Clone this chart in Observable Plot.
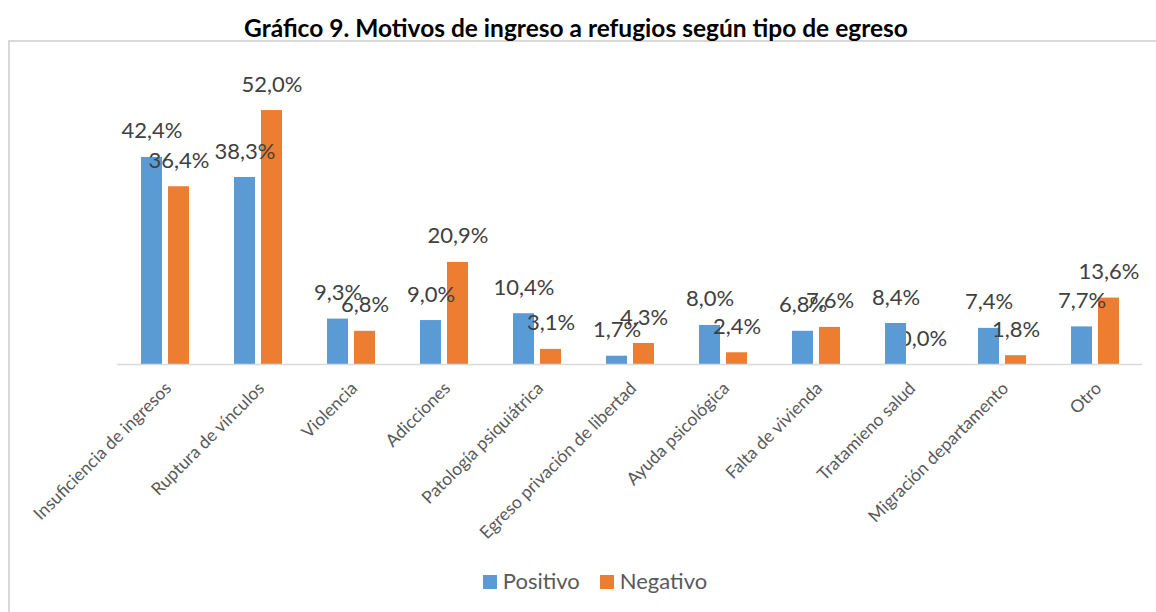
<!DOCTYPE html>
<html><head><meta charset="utf-8">
<script src="https://cdn.jsdelivr.net/npm/d3@7"></script>
<script src="https://cdn.jsdelivr.net/npm/@observablehq/plot@0.6"></script>
<style>
body{margin:0;background:#fff;font-family:Lato,sans-serif;}
#wrap{position:relative;width:1156px;height:612px;overflow:hidden;}
#box{position:absolute;left:8px;top:40px;width:1200px;height:700px;border:2px solid #d9d9d9;box-sizing:border-box;}
#title{position:absolute;left:0;width:1152px;top:13px;text-align:center;font-weight:bold;font-size:24.5px;color:#000;line-height:30px;}
#chart{position:absolute;left:0;top:41px;}
#legend{position:absolute;left:17px;width:1156px;top:567px;text-align:center;font-size:22px;color:#595959;line-height:28px;}
#legend span.sw{display:inline-block;width:14px;height:14px;margin-right:6px;vertical-align:0px;}
#legend span.it{margin:0 10px;}
</style></head>
<body>
<div id="wrap">
<div id="box"></div>
<div id="title">Gráfico 9. Motivos de ingreso a refugios según tipo de egreso</div>
<div id="chart"></div>
<div id="legend"></div>
</div>
<script>
const categories = ["Insuficiencia de ingresos","Ruptura de vínculos","Violencia","Adicciones","Patología psiquiátrica","Egreso privación de libertad","Ayuda psicológica","Falta de vivienda","Tratamieno salud","Migración departamento","Otro"];
const series = ["Positivo","Negativo"];
const positivo = [42.4,38.3,9.3,9.0,10.4,1.7,8.0,6.8,8.4,7.4,7.7];
const negativo = [36.4,52.0,6.8,20.9,3.1,4.3,2.4,7.6,0.0,1.8,13.6];
const colors = ["#5b9bd5","#ed7d31"];

const pos = categories.map((c,i)=>({cat:c, serie:"Positivo", value:positivo[i]}));
const neg = categories.map((c,i)=>({cat:c, serie:"Negativo", value:negativo[i]}));
const fmt = d => d.value.toFixed(1).replace(".", ",") + "%";

const lblStyle = {fontSize:22, fill:"#404040", dy:-26, lineAnchor:"middle"};

const chart = Plot.plot({
  width:1156, height:520,
  marginTop:30, marginBottom:197, marginLeft:117, marginRight:14,
  style:{fontFamily:"Lato", background:"transparent"},
  x:{domain:categories, paddingInner:0.485, paddingOuter:0.2425, axis:null},
  y:{domain:[0,60], axis:null},
  color:{domain:series, range:colors},
  marks:[
    Plot.text(neg.filter(d=>d.value===0), {x:"cat", y:"value", text:fmt, dx:13.5, ...lblStyle}),
    Plot.barY(pos, {x:"cat", y:"value", fill:"serie", insetRight:27}),
    Plot.barY(neg, {x:"cat", y:"value", fill:"serie", insetLeft:27}),
    Plot.ruleY([0], {stroke:"#d9d9d9", strokeWidth:1.5}),
    Plot.text(pos, {x:"cat", y:"value", text:fmt, dx:-13.5, ...lblStyle}),
    Plot.text(neg.filter(d=>d.value!==0), {x:"cat", y:"value", text:fmt, dx:13.5, ...lblStyle}),
    Plot.text(categories, {x:d=>d, frameAnchor:"bottom", text:d=>d, rotate:-45, textAnchor:"end", lineAnchor:"middle", dx:3, dy:21, fontSize:17.5, fill:"#595959"})
  ]
});
document.getElementById("chart").appendChild(chart);

const leg = document.getElementById("legend");
series.forEach((s,i)=>{
  const it = document.createElement("span");
  it.className = "it";
  it.innerHTML = `<span class="sw" style="background:${colors[i]}"></span>${s}`;
  leg.appendChild(it);
});
</script>
</body></html>
